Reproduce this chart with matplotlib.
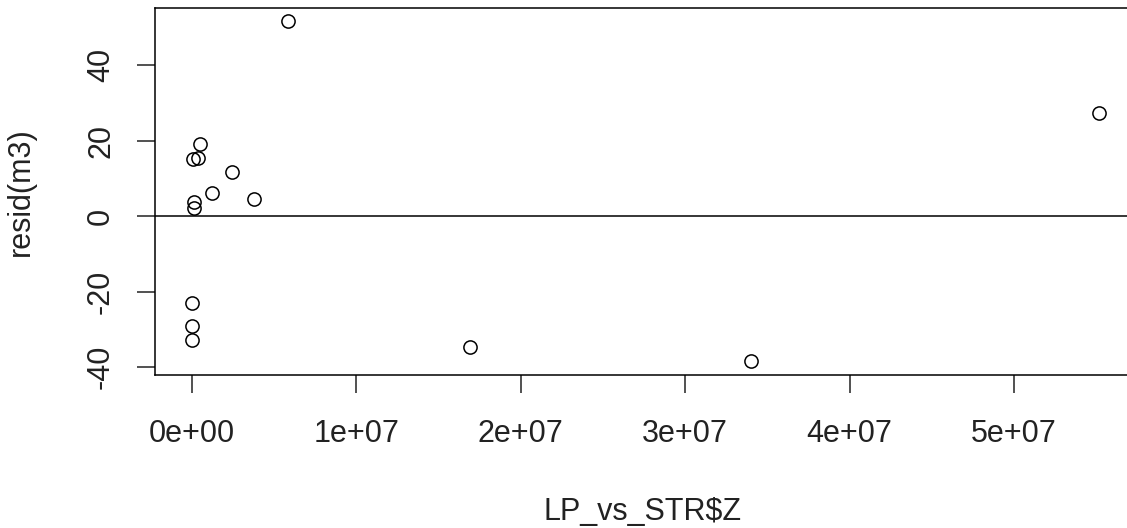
import matplotlib
matplotlib.use('Agg')
import matplotlib.pyplot as plt

# residuals of m3 against LP_vs_STR$Z
lp_z = [5.87e6, 5.52e7, 1.69e7, 3.40e7, 5.0e5, 5e4, 3.4e5, 2.44e6,
        1.21e6, 3.75e6, 1.5e5, 1.5e5, 1e4, 1e4, 1e4]
resid_m3 = [51.7, 27.3, -34.7, -38.4, 19.1, 15.0, 15.4, 11.7,
            6.0, 4.4, 3.6, 2.2, -22.9, -29.1, -32.7]

xticks = [0, 1e7, 2e7, 3e7, 4e7, 5e7]
xtick_labels = ['0e+00', '1e+07', '2e+07', '3e+07', '4e+07', '5e+07']
yticks = [-40, -20, 0, 20, 40]

plt.rcParams['font.family'] = ['Liberation Sans', 'DejaVu Sans']
plt.rcParams['font.size'] = 22

fig = plt.figure(figsize=(11.27, 5.28), dpi=100)
W, H = 1127.0, 528.0
ax = fig.add_axes([155 / W, 1 - 375 / H, (1130 - 155) / W, (375 - 8) / H])

ax.plot(lp_z, resid_m3, linestyle='none', marker='o', markersize=9.5,
        markerfacecolor='none', markeredgecolor='black', markeredgewidth=1.1)
ax.axhline(0, color='black', lw=1.1)

ax.set_xlim(-2.25e6, 5.706e7)
ax.set_ylim(-42.1, 55.1)
ax.set_xticks(xticks)
ax.set_xticklabels(xtick_labels)
ax.set_yticks(yticks)
ax.set_yticklabels([str(v) for v in yticks], rotation=90, va='center')

for s in ax.spines.values():
    s.set_linewidth(1.1)
    s.set_color('black')
ax.tick_params(length=13, width=1.1, colors='#222222')
ax.tick_params(axis='x', pad=19)
ax.tick_params(axis='y', pad=15)

ax.set_xlabel('LP_vs_STR$Z', labelpad=34, color='#222222')
ax.set_ylabel('resid(m3)', labelpad=36, color='#222222')

fig.savefig('out.png', dpi=100)
